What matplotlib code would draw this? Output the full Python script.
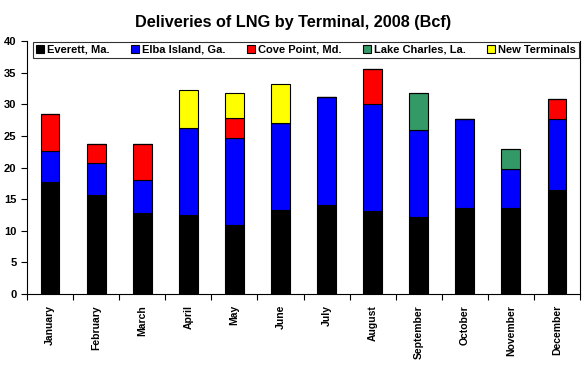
import matplotlib
matplotlib.use("Agg")
import matplotlib.pyplot as plt
import numpy as np

plt.rcParams['font.family'] = ['Liberation Sans', 'DejaVu Sans']
plt.rcParams['font.weight'] = 'bold'

months = ['January', 'February', 'March', 'April', 'May', 'June', 'July',
          'August', 'September', 'October', 'November', 'December']

# Bcf delivered per terminal
everett = [17.7, 15.7, 12.8, 12.5, 10.9, 13.3, 14.1, 13.1, 12.1, 13.6, 13.6, 16.5]
elba = [4.95, 5.0, 5.3, 13.8, 13.8, 13.7, 17.0, 16.9, 13.8, 14.0, 6.1, 11.2]
cove = [5.75, 3.0, 5.55, 0, 3.2, 0, 0, 5.5, 0, 0, 0, 3.15]
lake_charles = [0, 0, 0, 0, 0, 0, 0, 0, 5.85, 0, 3.2, 0]
new_terminals = [0, 0, 0, 5.9, 3.8, 6.2, 0, 0, 0, 0, 0, 0]

series = [
    ('Everett, Ma.', everett, '#000000'),
    ('Elba Island, Ga.', elba, '#0000ff'),
    ('Cove Point, Md.', cove, '#ff0000'),
    ('Lake Charles, La.', lake_charles, '#339966'),
    ('New Terminals', new_terminals, '#ffff00'),
]

fig = plt.figure(figsize=(5.86, 3.71), dpi=100)
ax = fig.add_axes([27 / 586, 77 / 371, 553 / 586, 253 / 371])

x = np.arange(len(months))
bottom = np.zeros(len(months))
for name, vals, col in series:
    vals = np.array(vals, dtype=float)
    ax.bar(x, vals, width=0.41, bottom=bottom, color=col, edgecolor='black',
           linewidth=0.8, label=name, zorder=3)
    bottom += vals

ax.set_xlim(-0.5, len(months) - 0.5)
ax.set_ylim(0, 40)
ax.set_yticks(range(0, 41, 5))
ax.set_xticks(x)
ax.set_xticklabels(months, rotation=90, fontsize=7.5, fontweight='bold')
ax.set_xticks(np.arange(-0.5, len(months), 1), minor=True)
ax.tick_params(axis='x', which='major', length=0, pad=8)
ax.tick_params(axis='x', which='minor', length=4, direction='out', width=0.8)
ax.tick_params(axis='y', length=4, direction='out', width=0.8, labelsize=8)
for lab in ax.get_yticklabels():
    lab.set_fontweight('bold')

ax.spines['top'].set_visible(False)
for s in ['left', 'bottom', 'right']:
    ax.spines[s].set_linewidth(0.8)

leg = ax.legend(loc='upper left', bbox_to_anchor=(6 / 553, 1.0 - 1 / 253, 546 / 553, 0),
                mode='expand', ncol=5, fontsize=8, frameon=True, fancybox=False,
                edgecolor='black', handlelength=0.7, handleheight=0.7,
                handletextpad=0.3, columnspacing=0.8, borderpad=0.25,
                borderaxespad=0)
leg.get_frame().set_linewidth(0.8)
for t in leg.get_texts():
    t.set_fontweight('bold')

fig.suptitle('Deliveries of LNG by Terminal, 2008 (Bcf)', x=0.5, y=0.96,
             fontsize=11.7, fontweight='bold')

fig.savefig('out.png', dpi=100)
